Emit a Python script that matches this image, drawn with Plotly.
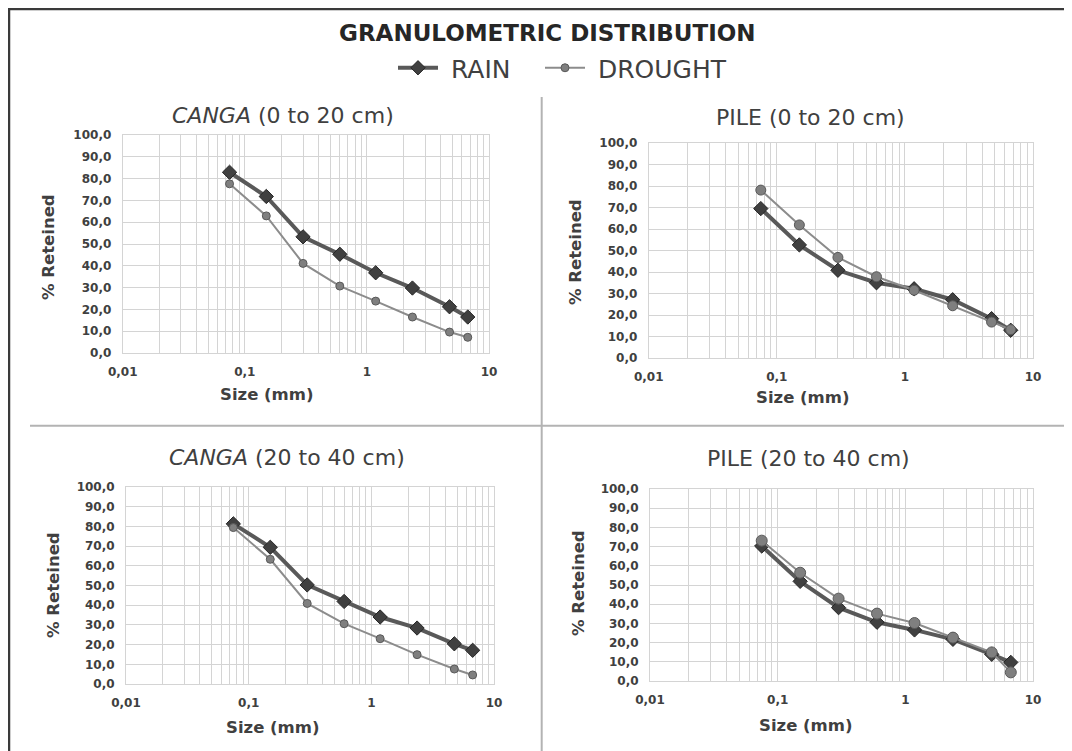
import plotly.graph_objects as go

W, H = 1072, 751
OX, OY = 8, 8   # page offset of the figure (body margin)

sizes = [0.075, 0.15, 0.3, 0.6, 1.18, 2.36, 4.75, 6.7]

series_names = ["RAIN", "DROUGHT"]
panel_titles = ["<i>CANGA</i> (0 to 20 cm)", "PILE (0 to 20 cm)",
                "<i>CANGA</i> (20 to 40 cm)", "PILE (20 to 40 cm)"]

rain_canga_0_20 = [82.9, 71.8, 53.3, 45.3, 36.8, 29.8, 21.2, 16.5]
drought_canga_0_20 = [77.6, 62.9, 41.1, 30.7, 23.8, 16.5, 9.6, 7.2]
rain_pile_0_20 = [69.5, 52.6, 40.8, 35.0, 32.2, 27.1, 18.3, 12.9]
drought_pile_0_20 = [78.1, 61.9, 46.8, 37.8, 31.5, 24.3, 16.7, 13.2]
rain_canga_20_40 = [81.3, 69.4, 50.3, 41.9, 34.0, 28.4, 20.4, 17.1]
drought_canga_20_40 = [79.4, 63.3, 40.9, 30.6, 23.0, 14.9, 7.6, 4.6]
rain_pile_20_40 = [70.3, 51.9, 38.2, 30.6, 26.6, 21.7, 13.9, 9.7]
drought_pile_20_40 = [73.1, 56.4, 42.9, 35.1, 30.2, 22.6, 14.9, 4.5]

rain_series = [rain_canga_0_20, rain_pile_0_20, rain_canga_20_40, rain_pile_20_40]
drought_series = [drought_canga_0_20, drought_pile_0_20, drought_canga_20_40, drought_pile_20_40]

x_major = [0.01, 0.1, 1, 10]
x_major_labels = ["0,01", "0,1", "1", "10"]

FONT = "DejaVu Sans"

# plot areas in page pixels: (left, right, top, bottom)
boxes = [(122.7, 489, 135, 353), (648.7, 1033, 143, 358),
         (126, 494, 487, 684), (650, 1033, 489, 681)]
title_pos = [(283, 116), (810, 118), (287, 457), (808, 458)]
ytitle_pos = [(48, 247), (575, 252), (53, 585), (578, 583)]
xtitle_pos = [(267, 395), (803, 397), (273, 727), (806, 725)]
drought_size = [8, 10, 8, 11]

def px(x):
    return (x - OX) / W

def py(y):
    return 1 - (y - OY) / H

# log tick values (all 1..9 multiples) with labels only at decades
tickvals, ticktext = [], []
for d in [0.01, 0.1, 1]:
    for m in range(1, 10):
        v = round(d * m, 4)
        tickvals.append(v)
        ticktext.append(x_major_labels[x_major.index(d)] if m == 1 else "")
tickvals.append(10)
ticktext.append("10")

fig = go.Figure()
layout = dict(width=W, height=H, autosize=False,
              margin=dict(l=0, r=0, t=0, b=0, pad=0, autoexpand=False),
              paper_bgcolor="white", plot_bgcolor="white",
              separators=",.", font=dict(family=FONT, color="#404040"))

annotations = []
shapes = []
for i in range(4):
    xa = "x" if i == 0 else f"x{i+1}"
    ya = "y" if i == 0 else f"y{i+1}"
    l, r, t, b = boxes[i]
    fig.add_trace(go.Scatter(
        x=sizes, y=rain_series[i], mode="lines+markers",
        name="\u00a0" + series_names[0], legend="legend",
        xaxis=xa, yaxis=ya, showlegend=(i == 0), legendgroup="rain",
        line=dict(color="#595959", width=4),
        marker=dict(symbol="diamond", size=11, color="#404040",
                    line=dict(color="#262626", width=1))))
    fig.add_trace(go.Scatter(
        x=sizes, y=drought_series[i], mode="lines+markers",
        name="\u00a0" + series_names[1], legend="legend2",
        xaxis=xa, yaxis=ya, showlegend=(i == 0), legendgroup="drought",
        line=dict(color="#8c8c8c", width=2),
        marker=dict(symbol="circle", size=drought_size[i], color="#7f7f7f",
                    line=dict(color="#595959", width=1))))
    xkey = "xaxis" if i == 0 else f"xaxis{i+1}"
    ykey = "yaxis" if i == 0 else f"yaxis{i+1}"
    layout[xkey] = dict(type="log", range=[-2, 1], domain=[px(l), px(r)],
                        anchor=ya, tickmode="array", tickvals=tickvals,
                        ticktext=ticktext, showgrid=True, gridcolor="#d4d4d4",
                        gridwidth=1, showline=True, mirror=True,
                        linecolor="#d4d4d4", ticks="", zeroline=False,
                        automargin=False, ticklabelstandoff=8,
                        tickfont=dict(family=FONT, size=12, color="#404040",
                                      weight="bold"))
    layout[ykey] = dict(range=[0, 100], dtick=10, tickformat=".1f",
                        domain=[py(b), py(t)], anchor=xa, showgrid=True,
                        gridcolor="#d4d4d4", gridwidth=1, showline=True,
                        mirror=True, linecolor="#d4d4d4", ticks="",
                        zeroline=False, automargin=False, ticklabelstandoff=8,
                        tickfont=dict(family=FONT, size=12, color="#404040",
                                      weight="bold"))
    tx, ty = title_pos[i]
    annotations.append(dict(text=panel_titles[i], x=px(tx), y=py(ty),
                            xref="paper", yref="paper", showarrow=False,
                            xanchor="center", yanchor="middle",
                            font=dict(family=FONT, size=22, color="#404040")))
    yx, yy = ytitle_pos[i]
    annotations.append(dict(text="<b>% Reteined</b>", x=px(yx), y=py(yy),
                            xref="paper", yref="paper", showarrow=False,
                            textangle=-90, xanchor="center", yanchor="middle",
                            font=dict(family=FONT, size=16.5, color="#404040")))
    sx, sy = xtitle_pos[i]
    annotations.append(dict(text="<b>Size (mm)</b>", x=px(sx), y=py(sy),
                            xref="paper", yref="paper", showarrow=False,
                            xanchor="center", yanchor="middle",
                            font=dict(family=FONT, size=16.5, color="#404040")))

annotations.append(dict(text="<b>GRANULOMETRIC DISTRIBUTION</b>",
                        x=px(547), y=py(33), xref="paper", yref="paper",
                        showarrow=False, xanchor="center", yanchor="middle",
                        font=dict(family=FONT, size=23, color="#262626")))

# frame and dividers
frame_col = "#3a3a3a"
shapes.append(dict(type="line", xref="paper", yref="paper",
                   x0=1 / W, x1=1 / W, y0=0, y1=1 - 1 / H,
                   line=dict(color=frame_col, width=2.5)))
shapes.append(dict(type="line", xref="paper", yref="paper",
                   x0=0, x1=1, y0=1 - 1 / H, y1=1 - 1 / H,
                   line=dict(color=frame_col, width=2.5)))
shapes.append(dict(type="line", xref="paper", yref="paper",
                   x0=px(541.7), x1=px(541.7), y0=0, y1=py(97),
                   line=dict(color="#b3b3b3", width=2)))
shapes.append(dict(type="line", xref="paper", yref="paper",
                   x0=px(30), x1=1, y0=py(425.7), y1=py(425.7),
                   line=dict(color="#b3b3b3", width=2)))

layout["annotations"] = annotations
layout["shapes"] = shapes
legend_common = dict(orientation="h", xanchor="left", y=py(68),
                     yanchor="middle",
                     font=dict(family=FONT, size=25, color="#404040"),
                     bgcolor="rgba(0,0,0,0)", itemwidth=40)
layout["legend"] = dict(x=px(393), **legend_common)
layout["legend2"] = dict(x=px(540), **legend_common)
layout["showlegend"] = True

fig.update_layout(**layout)
fig.write_html("out.html")
